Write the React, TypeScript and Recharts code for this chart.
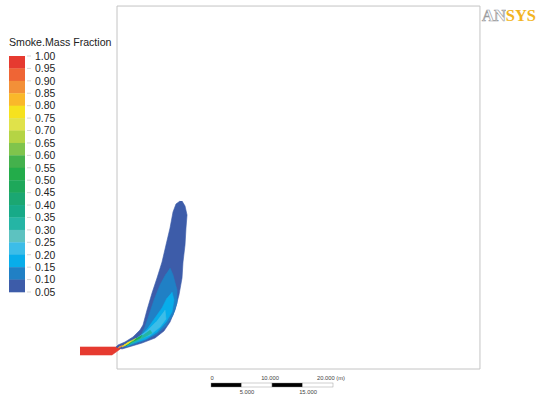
import { ReferenceArea, Scatter, ScatterChart, XAxis, YAxis } from "recharts";

// contour levels, top of the legend first
const levelLabels = [
  "1.00", "0.95", "0.90", "0.85", "0.80", "0.75", "0.70", "0.65", "0.60", "0.55",
  "0.50", "0.45", "0.40", "0.35", "0.30", "0.25", "0.20", "0.15", "0.10", "0.05",
];
const levelColors = [
  "#e63a30", "#ef6535", "#f39038", "#fab82a", "#f6e21e", "#e0e24a", "#b5d444",
  "#80c44c", "#44b14c", "#23ac4a", "#1ea85a", "#1ba772", "#17aa88", "#25b5a5",
  "#5dc2c0", "#3cbde8", "#08adea", "#2080c5", "#3d5ca9",
];

type Pt = { x: number; y: number };

// geometry in metres, origin at the lower-left corner of the domain
const inletRed: Pt[] = [
  { x: -6.07, y: 3.61 }, { x: 0.98, y: 3.61 }, { x: -0.82, y: 2.3 }, { x: -6.07, y: 2.3 },
];

const band005: Pt[] = [
  { x: 10.33, y: 27.54 }, { x: 9.67, y: 27.05 }, { x: 9.18, y: 25.74 }, { x: 8.69, y: 23.11 },
  { x: 8.03, y: 20.33 }, { x: 7.38, y: 17.54 }, { x: 6.56, y: 14.92 }, { x: 5.74, y: 12.46 },
  { x: 4.92, y: 9.67 }, { x: 4.26, y: 7.21 }, { x: 3.77, y: 6.39 }, { x: 2.62, y: 5.25 },
  { x: 1.31, y: 4.43 }, { x: 0.16, y: 3.93 }, { x: -0.16, y: 3.61 }, { x: 0.82, y: 3.28 },
  { x: 2.46, y: 3.77 }, { x: 4.1, y: 4.26 }, { x: 6.23, y: 5.08 }, { x: 7.7, y: 6.23 },
  { x: 8.69, y: 7.7 }, { x: 9.51, y: 9.67 }, { x: 10.16, y: 12.13 }, { x: 10.66, y: 14.92 },
  { x: 10.82, y: 17.54 }, { x: 11.15, y: 20.33 }, { x: 11.31, y: 23.11 }, { x: 11.48, y: 25.25 },
  { x: 11.15, y: 26.72 }, { x: 10.66, y: 27.54 },
];

const band010: Pt[] = [
  { x: 8.69, y: 16.56 }, { x: 9.18, y: 15.41 }, { x: 9.84, y: 12.95 }, { x: 9.84, y: 10.82 },
  { x: 9.18, y: 8.85 }, { x: 8.03, y: 7.05 }, { x: 6.56, y: 5.74 }, { x: 4.75, y: 4.75 },
  { x: 2.95, y: 4.1 }, { x: 1.48, y: 3.61 }, { x: 1.15, y: 3.77 }, { x: 2.62, y: 4.59 },
  { x: 3.93, y: 5.57 }, { x: 4.59, y: 6.89 }, { x: 5.25, y: 8.85 }, { x: 6.07, y: 11.31 },
  { x: 7.05, y: 13.77 }, { x: 8.03, y: 15.57 },
];

const band015: Pt[] = [
  { x: 9.02, y: 12.62 }, { x: 9.34, y: 11.31 }, { x: 9.02, y: 9.34 }, { x: 8.03, y: 7.7 },
  { x: 6.56, y: 6.07 }, { x: 4.75, y: 4.92 }, { x: 2.79, y: 4.26 }, { x: 1.64, y: 3.77 },
  { x: 2.3, y: 4.43 }, { x: 3.93, y: 5.41 }, { x: 5.08, y: 6.72 }, { x: 6.23, y: 8.36 },
  { x: 7.38, y: 10.0 }, { x: 8.2, y: 11.64 },
];

const band020: Pt[] = [
  { x: 7.87, y: 9.67 }, { x: 8.03, y: 8.2 }, { x: 7.05, y: 6.89 }, { x: 5.41, y: 5.57 },
  { x: 3.77, y: 4.92 }, { x: 2.3, y: 4.26 }, { x: 3.28, y: 5.08 }, { x: 4.92, y: 6.23 },
  { x: 6.39, y: 7.7 },
];

const band030: Pt[] = [
  { x: 5.41, y: 6.39 }, { x: 5.74, y: 5.9 }, { x: 4.26, y: 5.08 }, { x: 2.62, y: 4.26 },
  { x: 1.8, y: 3.93 }, { x: 2.95, y: 4.75 }, { x: 4.26, y: 5.57 },
];

const band055: Pt[] = [
  { x: 4.1, y: 5.57 }, { x: 3.77, y: 5.08 }, { x: 2.46, y: 4.43 }, { x: 1.48, y: 3.77 },
  { x: 2.13, y: 4.43 },
];

const band065: Pt[] = [
  { x: 3.11, y: 5.08 }, { x: 2.79, y: 4.75 }, { x: 1.64, y: 4.1 }, { x: 1.15, y: 3.77 },
  { x: 1.8, y: 4.43 },
];

const band075: Pt[] = [
  { x: 2.3, y: 4.59 }, { x: 1.97, y: 4.26 }, { x: 1.15, y: 3.77 }, { x: 0.82, y: 3.61 },
  { x: 1.31, y: 4.1 },
];

const band085: Pt[] = [
  { x: 0.98, y: 3.93 }, { x: 0.66, y: 3.61 }, { x: 0.16, y: 3.44 }, { x: 0.49, y: 3.77 },
];

const contours = [
  { name: "inlet", data: inletRed, color: levelColors[0] },
  { name: "0.05", data: band005, color: levelColors[18] },
  { name: "0.10", data: band010, color: levelColors[17] },
  { name: "0.15", data: band015, color: levelColors[16] },
  { name: "0.20", data: band020, color: levelColors[15] },
  { name: "0.30", data: band030, color: levelColors[13] },
  { name: "0.55", data: band055, color: levelColors[9] },
  { name: "0.65", data: band065, color: levelColors[6] },
  { name: "0.75", data: band075, color: levelColors[4] },
  { name: "0.85", data: band085, color: levelColors[2] },
];

const domainSize = 59.5;
const scaleTopLabels = ["0", "10.000", "20.000 (m)"];
const scaleBottomLabels = ["5.000", "15.000"];

const font = "'Liberation Sans', Arial, sans-serif";

function NoDot() {
  return <g />;
}

function Overlay() {
  const barTop = 56;
  const bandH = (292 - barTop) / levelColors.length;
  const seg = 30.5;
  return (
    <svg width={537} height={395} style={{ position: "absolute", left: 0, top: 0, pointerEvents: "none" }}>
      <defs>
        {/* "AN" outlined grey, "SYS" solid gold, in one text run */}
        <linearGradient id="logoFill" gradientUnits="userSpaceOnUse" x1={482} x2={536} y1={0} y2={0}>
          <stop offset="0.44" stopColor="#ffffff" />
          <stop offset="0.44" stopColor="#f2b322" />
        </linearGradient>
        <linearGradient id="logoStroke" gradientUnits="userSpaceOnUse" x1={482} x2={536} y1={0} y2={0}>
          <stop offset="0.44" stopColor="#9c9c9c" />
          <stop offset="0.44" stopColor="#f2b322" stopOpacity={0} />
        </linearGradient>
      </defs>
      <text x={9} y={46} fontFamily={font} fontSize={10.6} fill="#222">
        Smoke.Mass Fraction
      </text>
      {levelColors.map((c, i) => (
        <rect key={c} x={9} y={barTop + i * bandH} width={16} height={bandH + 0.3} fill={c} />
      ))}
      {levelLabels.map((l, i) => (
        <g key={l}>
          <line x1={27} x2={31} y1={barTop + i * bandH} y2={barTop + i * bandH} stroke="#bbb" strokeWidth={0.6} />
          <text x={35} y={barTop + i * bandH + 3.8} fontFamily={font} fontSize={10.4} fill="#222">
            {l}
          </text>
        </g>
      ))}

      {/* scale bar */}
      {[0, 1, 2, 3].map((i) => (
        <rect
          key={i}
          x={211 + i * seg}
          y={383}
          width={seg}
          height={4}
          fill={i % 2 === 0 ? "#000" : "#fff"}
          stroke="#888"
          strokeWidth={0.4}
        />
      ))}
      {scaleTopLabels.map((l, i) => (
        <text key={l} x={[212, 270, 331][i]} y={380} textAnchor="middle" fontFamily={font} fontSize={5.8} fill="#444">
          {l}
        </text>
      ))}
      {scaleBottomLabels.map((l, i) => (
        <text key={l} x={[247, 308][i]} y={394} textAnchor="middle" fontFamily={font} fontSize={5.8} fill="#444">
          {l}
        </text>
      ))}

      {/* logo */}
      <text
        x={482}
        y={21}
        fontFamily="'Liberation Serif', serif"
        fontWeight="bold"
        fontSize={17}
        fill="url(#logoFill)"
        stroke="url(#logoStroke)"
        strokeWidth={0.7}
        textLength={54}
        lengthAdjust="spacingAndGlyphs"
      >
        ANSYS
      </text>
    </svg>
  );
}

export default function App() {
  return (
    <div style={{ position: "absolute", left: 0, top: 0, width: 537, height: 395, background: "#fff" }}>
      <ScatterChart width={537} height={395} margin={{ top: 0, right: 0, bottom: 0, left: 0 }}>
        <XAxis type="number" dataKey="x" domain={[-19.18, 68.85]} allowDataOverflow hide />
        <YAxis type="number" dataKey="y" domain={[-4.26, 60.49]} allowDataOverflow hide />
        <ReferenceArea x1={0} x2={domainSize} y1={0} y2={domainSize} fill="none" stroke="#c4c4c4" strokeWidth={1} />
        {contours.map((c) => (
          <Scatter
            key={c.name}
            name={c.name}
            data={c.data}
            fill={c.color}
            line={{ fill: c.color, stroke: c.color, strokeWidth: 0.6 }}
            shape={NoDot}
            isAnimationActive={false}
          />
        ))}
      </ScatterChart>
      <Overlay />
    </div>
  );
}
